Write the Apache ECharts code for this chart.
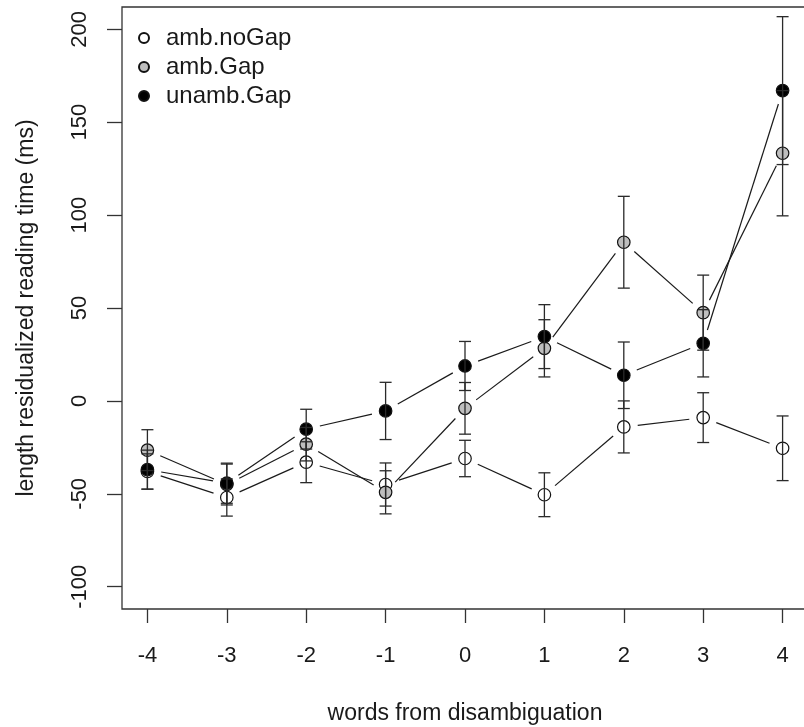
<!DOCTYPE html>
<html>
<head>
<meta charset="utf-8">
<script src="https://cdn.jsdelivr.net/npm/echarts@6/dist/echarts.min.js"></script>
<style>
html,body{margin:0;padding:0;background:#fff;}
#chart{width:804px;height:727px;}
</style>
</head>
<body>
<div id="chart"></div>
<script>
// ---- data ----
const xPositions = [-4, -3, -2, -1, 0, 1, 2, 3, 4];
const xTickLabels = ['-4', '-3', '-2', '-1', '0', '1', '2', '3', '4'];
const yTicks = [-100, -50, 0, 50, 100, 150, 200];

const seriesNames = ['amb.noGap', 'amb.Gap', 'unamb.Gap'];
const ambNoGap   = [-38, -52, -33, -45, -31, -50.5, -14, -9, -25.5];
const ambNoGapSE = [9.5, 10, 11, 11.6, 9.8, 11.8, 14, 13.4, 17.4];
const ambGap     = [-26.5, -45, -23.3, -49.2, -4, 28.3, 85.4, 47.5, 133.3];
const ambGapSE   = [11, 11, 9, 11.6, 13.9, 15.4, 24.7, 20.2, 33.7];
const unambGap   = [-37, -44.3, -15.2, -5.4, 18.8, 34.6, 13.8, 31, 167];
const unambGapSE = [10.5, 10.8, 10.7, 15.4, 13.2, 17.2, 17.9, 18.1, 39.8];

const fills = ['#ffffff', '#bebebe', '#000000'];
const means = [ambNoGap, ambGap, unambGap];
const ses = [ambNoGapSE, ambGapSE, unambGapSE];

const FONT = '"Liberation Sans", Arial, Helvetica, sans-serif';
const INK = '#1a1a1a';
const GAP = 14;   // gap between connecting segment and point centre (px)
const CAP = 6;    // half width of error bar caps (px)

function segRender(params, api) {
  const p0 = api.coord([api.value(0), api.value(1)]);
  const p1 = api.coord([api.value(2), api.value(3)]);
  const dx = p1[0] - p0[0], dy = p1[1] - p0[1];
  const len = Math.sqrt(dx * dx + dy * dy);
  if (len <= 2 * GAP) return null;
  const ux = dx / len, uy = dy / len;
  return {
    type: 'line',
    shape: { x1: p0[0] + ux * GAP, y1: p0[1] + uy * GAP, x2: p1[0] - ux * GAP, y2: p1[1] - uy * GAP },
    style: { stroke: INK, lineWidth: 1.2, fill: null }
  };
}

function errRender(params, api) {
  const x = api.value(0), m = api.value(1), s = api.value(2);
  const top = api.coord([x, m + s]);
  const bot = api.coord([x, m - s]);
  const st = { stroke: '#2a2a2a', lineWidth: 1.3, fill: null };
  return {
    type: 'group',
    children: [
      { type: 'line', shape: { x1: top[0], y1: top[1], x2: bot[0], y2: bot[1] }, style: st },
      { type: 'line', shape: { x1: top[0] - CAP, y1: top[1], x2: top[0] + CAP, y2: top[1] }, style: st },
      { type: 'line', shape: { x1: bot[0] - CAP, y1: bot[1], x2: bot[0] + CAP, y2: bot[1] }, style: st }
    ]
  };
}

const series = [];
seriesNames.forEach((name, k) => {
  const segs = [];
  for (let i = 0; i < xPositions.length - 1; i++) {
    segs.push([xPositions[i], means[k][i], xPositions[i + 1], means[k][i + 1]]);
  }
  series.push({
    name: name + ' line',
    type: 'custom',
    renderItem: segRender,
    dimensions: ['x0', 'y0', 'x1', 'y1'],
    encode: { x: [0, 2], y: [1, 3] },
    data: segs,
    silent: true,
    z: 2
  });
});
seriesNames.forEach((name, k) => {
  series.push({
    name: name,
    type: 'scatter',
    symbol: 'circle',
    symbolSize: 12.5,
    data: xPositions.map((x, i) => [x, means[k][i]]),
    itemStyle: { color: fills[k], borderColor: '#111', borderWidth: 1.2, opacity: 1 },
    emphasis: { disabled: true },
    silent: true,
    z: 3
  });
});
seriesNames.forEach((name, k) => {
  series.push({
    name: name + ' err',
    type: 'custom',
    renderItem: errRender,
    dimensions: ['x', 'mean', 'se'],
    encode: { x: 0, y: 1 },
    data: xPositions.map((x, i) => [x, means[k][i], ses[k][i]]),
    silent: true,
    z: 4
  });
});

const chart = echarts.init(document.getElementById('chart'), null, { renderer: 'canvas' });
chart.setOption({
  animation: false,
  backgroundColor: '#ffffff',
  textStyle: { fontFamily: FONT },
  grid: {
    show: true, left: 122, top: 7, right: -4, bottom: 118,
    outerBoundsMode: 'none',
    borderColor: '#333', borderWidth: 1.3, backgroundColor: 'transparent',
    containLabel: false
  },
  legend: {
    data: seriesNames,
    orient: 'vertical',
    left: 138, top: 26,
    padding: 0,
    itemWidth: 34, itemHeight: 10, itemGap: 5,
    icon: 'circle',
    selectedMode: false,
    textStyle: { fontSize: 24, color: INK, fontFamily: FONT, padding: [0, 0, 0, 0] }
  },
  xAxis: {
    type: 'value',
    min: -4.32, max: 4.32,
    name: 'words from disambiguation',
    nameLocation: 'middle',
    nameGap: 93,
    nameTextStyle: { fontSize: 23, color: INK, fontFamily: FONT },
    axisLine: { show: false, onZero: false },
    splitLine: { show: false },
    axisTick: { show: true, length: 14, customValues: xPositions, lineStyle: { color: '#333', width: 1.3 } },
    axisLabel: {
      customValues: xPositions,
      formatter: (v) => xTickLabels[xPositions.indexOf(v)],
      fontSize: 22, color: INK, fontFamily: FONT, margin: 36
    }
  },
  yAxis: {
    type: 'value',
    min: -112, max: 212,
    name: 'length residualized reading time (ms)',
    nameLocation: 'middle',
    nameGap: 84,
    nameRotate: 90,
    nameTextStyle: { fontSize: 23, color: INK, fontFamily: FONT },
    axisLine: { show: false, onZero: false },
    splitLine: { show: false },
    axisTick: { show: true, length: 15, customValues: yTicks, lineStyle: { color: '#333', width: 1.3 } },
    axisLabel: {
      customValues: yTicks,
      rotate: 90,
      fontSize: 22, color: INK, fontFamily: FONT, margin: 31
    }
  },
  series: series
});
</script>
</body>
</html>
